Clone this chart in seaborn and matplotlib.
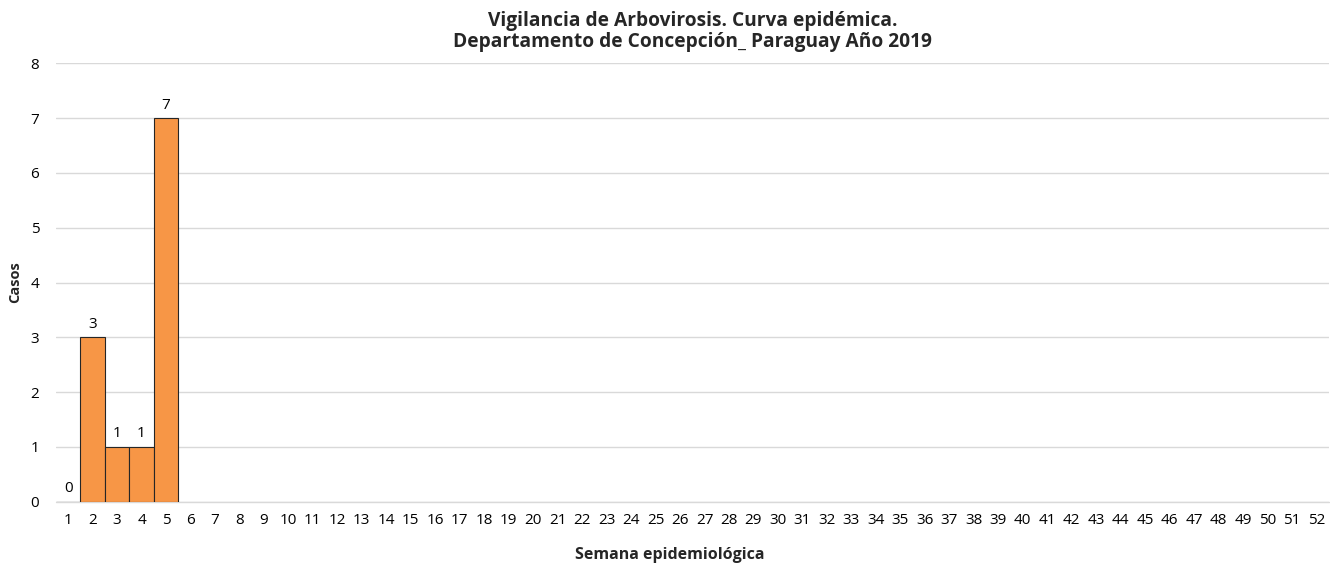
import numpy as np
import pandas as pd
import matplotlib
matplotlib.use('Agg')
import matplotlib.pyplot as plt
import seaborn as sns

# Datos: semanas epidemiológicas y casos (solo semanas 1-5 con datos)
semanas = [str(i) for i in range(1, 53)]
casos = [0, 3, 1, 1, 7] + [np.nan] * 47

df = pd.DataFrame({'semana': semanas, 'casos': casos})

sns.set_style('white')
plt.rcParams['font.family'] = ['Open Sans', 'DejaVu Sans']

fig, ax = plt.subplots(figsize=(13.3, 5.65), dpi=100)
fig.subplots_adjust(left=0.042, right=0.999, top=0.888, bottom=0.112)

# línea base en 0 (visible por encima del borde del eje)
ax.axhline(0, color='#D9D9D9', linewidth=1, clip_on=False, zorder=0)

sns.barplot(data=df, x='semana', y='casos', order=semanas, color='#F79646',
            saturation=1, width=1.0, edgecolor='#262626', linewidth=0.8, ax=ax)

# Etiquetas de datos solo donde hay valor
for bar in ax.patches:
    if bar is None:
        continue
    h = bar.get_height()
    if np.isnan(h):
        continue
    ax.annotate(f'{int(h)}', (bar.get_x() + bar.get_width() / 2, h),
                xytext=(0, 4), textcoords='offset points',
                ha='center', va='bottom', fontsize=11, color='#000000')

ax.set_ylim(0, 8)
ax.set_yticks(range(0, 9))
ax.set_xlim(-0.5, 51.5)
ax.yaxis.grid(True, color='#D9D9D9', linewidth=1)
ax.set_axisbelow(True)
for s in ax.spines.values():
    s.set_visible(False)
ax.tick_params(axis='both', length=0, labelsize=11, colors='#000000')
ax.tick_params(axis='y', pad=12)
ax.tick_params(axis='x', pad=8)

ax.set_title('Vigilancia de Arbovirosis. Curva epidémica.\nDepartamento de Concepción_ Paraguay Año 2019',
             fontsize=13.8, fontweight='bold', pad=12, linespacing=1.05)
ax.set_xlabel('Semana epidemiológica', fontsize=11.5, fontweight='bold')
ax.xaxis.set_label_coords(0.482, -0.104)
ax.set_ylabel('Casos', fontsize=10.5, fontweight='bold', labelpad=6)

plt.savefig('out.png', dpi=100)
